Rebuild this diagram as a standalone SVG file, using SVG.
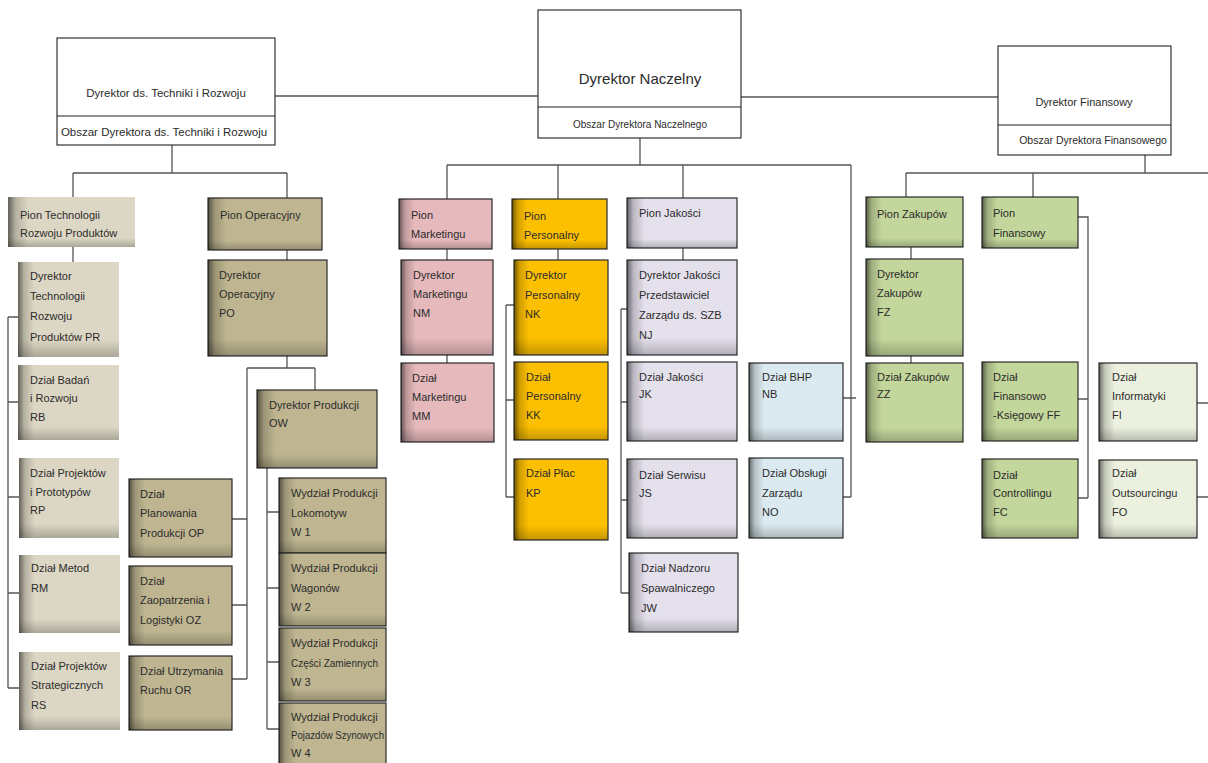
<svg xmlns="http://www.w3.org/2000/svg" width="1208" height="763" viewBox="0 0 1208 763">
<defs>
<linearGradient id="sl" x1="0" y1="0" x2="1" y2="0">
<stop offset="0" stop-color="#000" stop-opacity="0.55"/>
<stop offset="0.06" stop-color="#000" stop-opacity="0.18"/>
<stop offset="0.16" stop-color="#000" stop-opacity="0"/>
</linearGradient>
<linearGradient id="sb" x1="0" y1="0" x2="0" y2="1">
<stop offset="0.82" stop-color="#000" stop-opacity="0"/>
<stop offset="1" stop-color="#000" stop-opacity="0.22"/>
</linearGradient>
</defs>
<style>
.c{stroke:#555;stroke-width:1.3;fill:none}
.t{font-family:"Liberation Sans",Arial,sans-serif;font-size:11px;fill:#2b2b2b}
.top{fill:#fff;stroke:#222;stroke-width:1.1}
.tech{fill:#dcd7c4}
.op{fill:#bfb691;stroke:#2a2a2a;stroke-width:1.2}
.mk{fill:#e6b9bc;stroke:#2a2a2a;stroke-width:1.2}
.pe{fill:#fdc000;stroke:#2a2a2a;stroke-width:1.2}
.jk{fill:#e4e0ec;stroke:#2a2a2a;stroke-width:1.2}
.bhp{fill:#dbeaf0;stroke:#2a2a2a;stroke-width:1.2}
.gr{fill:#c3d69b;stroke:#2a2a2a;stroke-width:1.2}
.lg{fill:#ecf1df;stroke:#2a2a2a;stroke-width:1.2}
.shl{fill:url(#sl)}
.shb{fill:url(#sb)}
</style>
<rect width="1208" height="763" fill="#fff"/>

<g id="connectors">
<path class="c" d="M275,96H538M741,97H998"/>
<path class="c" d="M172,145V173M73,173H287M73,173V197M287,173V198"/>
<path class="c" d="M73,247V262M8,317V688M8,317H18M8,402H18M8,497H19M8,593H19M8,688H19"/>
<path class="c" d="M287,250V260M287,356V368M247,368H315M315,368V390M247,368V679M232,519H247M232,605H247M232,679H247"/>
<path class="c" d="M267,468V729M267,512H279M267,588H279M267,662H279M267,729H279"/>
<path class="c" d="M640,138V165M447,165H851M447,165V199M558,165V199M683,165V198M851,165V497M843,398H856M843,497H851"/>
<path class="c" d="M447,249V260M447,355V363"/>
<path class="c" d="M558,249V260M506,305V497M506,305H514M506,400H514M506,497H514"/>
<path class="c" d="M683,248V260M621,309V593M621,309H627M621,402H627M621,500H627M621,593H629"/>
<path class="c" d="M1145,155V173M906,173H1208M906,173V197M1033,173V197"/>
<path class="c" d="M911,247V259M911,356V363"/>
<path class="c" d="M1078,217H1088V498M1078,399H1088M1078,498H1088"/>
<path class="c" d="M1197,403H1208M1197,497H1208"/>
</g>

<g id="dyr-techniki">
<rect class="top" x="57" y="38" width="218" height="107"/>
<line x1="57" y1="116" x2="275" y2="116" stroke="#222" stroke-width="1.1"/>
<text class="t" x="166" y="97" text-anchor="middle" style="font-size:11.5px">Dyrektor ds. Techniki i Rozwoju</text>
<text class="t" x="164" y="136" text-anchor="middle" style="font-size:11.5px">Obszar Dyrektora ds. Techniki i Rozwoju</text>
</g>
<g id="dyr-naczelny">
<rect class="top" x="538" y="10" width="203" height="128"/>
<line x1="538" y1="107" x2="741" y2="107" stroke="#222" stroke-width="1.1"/>
<text class="t" x="640" y="84" text-anchor="middle" style="font-size:15px">Dyrektor Naczelny</text>
<text class="t" x="640" y="128" text-anchor="middle" style="font-size:10px">Obszar Dyrektora Naczelnego</text>
</g>
<g id="dyr-finansowy">
<rect class="top" x="998" y="46" width="173" height="109"/>
<line x1="998" y1="125" x2="1171" y2="125" stroke="#222" stroke-width="1.1"/>
<text class="t" x="1084" y="106" text-anchor="middle" style="font-size:11px">Dyrektor Finansowy</text>
<text class="t" x="1093" y="144" text-anchor="middle" style="font-size:10.5px">Obszar Dyrektora Finansowego</text>
</g>

<g id="pion-technologii">
<rect class="tech" x="8" y="197" width="127" height="50"/><rect class="shl" x="8" y="197" width="127" height="50"/><rect class="shb" x="8" y="197" width="127" height="50"/>
<text class="t" x="20" y="219">Pion Technologii</text><text class="t" x="20" y="237">Rozwoju Produktów</text>
</g>
<g id="dyr-pr">
<rect class="tech" x="18" y="262" width="101" height="95"/><rect class="shl" x="18" y="262" width="101" height="95"/><rect class="shb" x="18" y="262" width="101" height="95"/>
<text class="t" x="30" y="280">Dyrektor</text><text class="t" x="30" y="300">Technologii</text><text class="t" x="30" y="320">Rozwoju</text><text class="t" x="30" y="341">Produktów  PR</text>
</g>
<g id="dzial-rb">
<rect class="tech" x="18" y="365" width="101" height="75"/><rect class="shl" x="18" y="365" width="101" height="75"/><rect class="shb" x="18" y="365" width="101" height="75"/>
<text class="t" x="30" y="384">Dział Badań</text><text class="t" x="30" y="402">i Rozwoju</text><text class="t" x="30" y="421">RB</text>
</g>
<g id="dzial-rp">
<rect class="tech" x="19" y="458" width="100" height="80"/><rect class="shl" x="19" y="458" width="100" height="80"/><rect class="shb" x="19" y="458" width="100" height="80"/>
<text class="t" x="30" y="477">Dział Projektów</text><text class="t" x="30" y="496">i Prototypów</text><text class="t" x="30" y="514">RP</text>
</g>
<g id="dzial-rm">
<rect class="tech" x="19" y="555" width="101" height="78"/><rect class="shl" x="19" y="555" width="101" height="78"/><rect class="shb" x="19" y="555" width="101" height="78"/>
<text class="t" x="31" y="572">Dział Metod</text><text class="t" x="31" y="592">RM</text>
</g>
<g id="dzial-rs">
<rect class="tech" x="19" y="652" width="101" height="78"/><rect class="shl" x="19" y="652" width="101" height="78"/><rect class="shb" x="19" y="652" width="101" height="78"/>
<text class="t" x="31" y="670">Dział Projektów</text><text class="t" x="31" y="689">Strategicznych</text><text class="t" x="31" y="709">RS</text>
</g>

<g id="pion-operacyjny">
<rect class="op" x="208" y="198" width="114" height="52"/><rect class="shl" x="208" y="198" width="114" height="52"/><rect class="shb" x="208" y="198" width="114" height="52"/>
<text class="t" x="220" y="219">Pion Operacyjny</text>
</g>
<g id="dyr-po">
<rect class="op" x="208" y="260" width="119" height="96"/><rect class="shl" x="208" y="260" width="119" height="96"/><rect class="shb" x="208" y="260" width="119" height="96"/>
<text class="t" x="219" y="279">Dyrektor</text><text class="t" x="219" y="298">Operacyjny</text><text class="t" x="219" y="317">PO</text>
</g>
<g id="dyr-ow">
<rect class="op" x="257" y="390" width="120" height="78"/><rect class="shl" x="257" y="390" width="120" height="78"/><rect class="shb" x="257" y="390" width="120" height="78"/>
<text class="t" x="269" y="409">Dyrektor Produkcji</text><text class="t" x="269" y="427">OW</text>
</g>
<g id="dzial-op">
<rect class="op" x="129" y="479" width="103" height="78"/><rect class="shl" x="129" y="479" width="103" height="78"/><rect class="shb" x="129" y="479" width="103" height="78"/>
<text class="t" x="140" y="498">Dział</text><text class="t" x="140" y="517">Planowania</text><text class="t" x="140" y="537">Produkcji  OP</text>
</g>
<g id="dzial-oz">
<rect class="op" x="129" y="566" width="103" height="79"/><rect class="shl" x="129" y="566" width="103" height="79"/><rect class="shb" x="129" y="566" width="103" height="79"/>
<text class="t" x="140" y="585">Dział</text><text class="t" x="140" y="604">Zaopatrzenia i</text><text class="t" x="140" y="624">Logistyki OZ</text>
</g>
<g id="dzial-or">
<rect class="op" x="129" y="656" width="103" height="74"/><rect class="shl" x="129" y="656" width="103" height="74"/><rect class="shb" x="129" y="656" width="103" height="74"/>
<text class="t" x="140" y="675">Dział Utrzymania</text><text class="t" x="140" y="694">Ruchu OR</text>
</g>
<g id="wydzial-w1">
<rect class="op" x="279" y="478" width="107" height="75"/><rect class="shl" x="279" y="478" width="107" height="75"/><rect class="shb" x="279" y="478" width="107" height="75"/>
<text class="t" x="291" y="497">Wydział Produkcji</text><text class="t" x="291" y="517">Lokomotyw</text><text class="t" x="291" y="536">W 1</text>
</g>
<g id="wydzial-w2">
<rect class="op" x="279" y="553" width="107" height="73"/><rect class="shl" x="279" y="553" width="107" height="73"/><rect class="shb" x="279" y="553" width="107" height="73"/>
<text class="t" x="291" y="572">Wydział Produkcji</text><text class="t" x="291" y="592">Wagonów</text><text class="t" x="291" y="611">W 2</text>
</g>
<g id="wydzial-w3">
<rect class="op" x="279" y="628" width="107" height="73"/><rect class="shl" x="279" y="628" width="107" height="73"/><rect class="shb" x="279" y="628" width="107" height="73"/>
<text class="t" x="291" y="647">Wydział Produkcji</text><text class="t" x="291" y="667" textLength="87" lengthAdjust="spacingAndGlyphs">Części Zamiennych</text><text class="t" x="291" y="686">W 3</text>
</g>
<g id="wydzial-w4">
<rect class="op" x="279" y="703" width="107" height="62"/><rect class="shl" x="279" y="703" width="107" height="62"/>
<text class="t" x="291" y="721">Wydział Produkcji</text><text class="t" x="291" y="739" textLength="93" lengthAdjust="spacingAndGlyphs">Pojazdów Szynowych</text><text class="t" x="291" y="757">W 4</text>
</g>

<g id="pion-marketingu">
<rect class="mk" x="399" y="199" width="93" height="50"/><rect class="shl" x="399" y="199" width="93" height="50"/><rect class="shb" x="399" y="199" width="93" height="50"/>
<text class="t" x="411" y="219">Pion</text><text class="t" x="411" y="238">Marketingu</text>
</g>
<g id="dyr-nm">
<rect class="mk" x="401" y="260" width="92" height="95"/><rect class="shl" x="401" y="260" width="92" height="95"/><rect class="shb" x="401" y="260" width="92" height="95"/>
<text class="t" x="413" y="279">Dyrektor</text><text class="t" x="413" y="298">Marketingu</text><text class="t" x="413" y="317">NM</text>
</g>
<g id="dzial-mm">
<rect class="mk" x="401" y="363" width="93" height="79"/><rect class="shl" x="401" y="363" width="93" height="79"/><rect class="shb" x="401" y="363" width="93" height="79"/>
<text class="t" x="412" y="382">Dział</text><text class="t" x="412" y="401">Marketingu</text><text class="t" x="412" y="420">MM</text>
</g>

<g id="pion-personalny">
<rect class="pe" x="512" y="199" width="95" height="50"/><rect class="shl" x="512" y="199" width="95" height="50"/><rect class="shb" x="512" y="199" width="95" height="50"/>
<text class="t" x="524" y="220">Pion</text><text class="t" x="524" y="239">Personalny</text>
</g>
<g id="dyr-nk">
<rect class="pe" x="514" y="260" width="94" height="95"/><rect class="shl" x="514" y="260" width="94" height="95"/><rect class="shb" x="514" y="260" width="94" height="95"/>
<text class="t" x="525" y="279">Dyrektor</text><text class="t" x="525" y="299">Personalny</text><text class="t" x="525" y="318">NK</text>
</g>
<g id="dzial-kk">
<rect class="pe" x="514" y="362" width="94" height="78"/><rect class="shl" x="514" y="362" width="94" height="78"/><rect class="shb" x="514" y="362" width="94" height="78"/>
<text class="t" x="526" y="381">Dział</text><text class="t" x="526" y="400">Personalny</text><text class="t" x="526" y="419">KK</text>
</g>
<g id="dzial-kp">
<rect class="pe" x="514" y="459" width="94" height="81"/><rect class="shl" x="514" y="459" width="94" height="81"/><rect class="shb" x="514" y="459" width="94" height="81"/>
<text class="t" x="526" y="477">Dział Płac</text><text class="t" x="526" y="497">KP</text>
</g>

<g id="pion-jakosci">
<rect class="jk" x="627" y="198" width="110" height="50"/><rect class="shl" x="627" y="198" width="110" height="50"/><rect class="shb" x="627" y="198" width="110" height="50"/>
<text class="t" x="639" y="217">Pion Jakości</text>
</g>
<g id="dyr-nj">
<rect class="jk" x="627" y="260" width="110" height="95"/><rect class="shl" x="627" y="260" width="110" height="95"/><rect class="shb" x="627" y="260" width="110" height="95"/>
<text class="t" x="639" y="279">Dyrektor Jakości</text><text class="t" x="639" y="299">Przedstawiciel</text><text class="t" x="639" y="319">Zarządu ds. SZB</text><text class="t" x="639" y="339">NJ</text>
</g>
<g id="dzial-jk">
<rect class="jk" x="627" y="362" width="110" height="79"/><rect class="shl" x="627" y="362" width="110" height="79"/><rect class="shb" x="627" y="362" width="110" height="79"/>
<text class="t" x="639" y="381">Dział Jakości</text><text class="t" x="639" y="398">JK</text>
</g>
<g id="dzial-js">
<rect class="jk" x="627" y="459" width="110" height="79"/><rect class="shl" x="627" y="459" width="110" height="79"/><rect class="shb" x="627" y="459" width="110" height="79"/>
<text class="t" x="639" y="479">Dział Serwisu</text><text class="t" x="639" y="497">JS</text>
</g>
<g id="dzial-jw">
<rect class="jk" x="629" y="553" width="109" height="79"/><rect class="shl" x="629" y="553" width="109" height="79"/><rect class="shb" x="629" y="553" width="109" height="79"/>
<text class="t" x="641" y="572">Dział Nadzoru</text><text class="t" x="641" y="592">Spawalniczego</text><text class="t" x="641" y="612">JW</text>
</g>

<g id="dzial-nb">
<rect class="bhp" x="749" y="363" width="94" height="78"/><rect class="shl" x="749" y="363" width="94" height="78"/><rect class="shb" x="749" y="363" width="94" height="78"/>
<text class="t" x="762" y="381">Dział BHP</text><text class="t" x="762" y="398">NB</text>
</g>
<g id="dzial-no">
<rect class="bhp" x="749" y="458" width="94" height="80"/><rect class="shl" x="749" y="458" width="94" height="80"/><rect class="shb" x="749" y="458" width="94" height="80"/>
<text class="t" x="762" y="477">Dział Obsługi</text><text class="t" x="762" y="497">Zarządu</text><text class="t" x="762" y="516">NO</text>
</g>

<g id="pion-zakupow">
<rect class="gr" x="866" y="197" width="97" height="50"/><rect class="shl" x="866" y="197" width="97" height="50"/><rect class="shb" x="866" y="197" width="97" height="50"/>
<text class="t" x="877" y="218">Pion Zakupów</text>
</g>
<g id="dyr-fz">
<rect class="gr" x="866" y="259" width="97" height="97"/><rect class="shl" x="866" y="259" width="97" height="97"/><rect class="shb" x="866" y="259" width="97" height="97"/>
<text class="t" x="877" y="278">Dyrektor</text><text class="t" x="877" y="297">Zakupów</text><text class="t" x="877" y="316">FZ</text>
</g>
<g id="dzial-zz">
<rect class="gr" x="866" y="363" width="97" height="79"/><rect class="shl" x="866" y="363" width="97" height="79"/><rect class="shb" x="866" y="363" width="97" height="79"/>
<text class="t" x="877" y="381">Dział Zakupów</text><text class="t" x="877" y="398">ZZ</text>
</g>

<g id="pion-finansowy">
<rect class="gr" x="982" y="197" width="96" height="51"/><rect class="shl" x="982" y="197" width="96" height="51"/><rect class="shb" x="982" y="197" width="96" height="51"/>
<text class="t" x="993" y="217">Pion</text><text class="t" x="993" y="237">Finansowy</text>
</g>
<g id="dzial-ff">
<rect class="gr" x="982" y="362" width="96" height="79"/><rect class="shl" x="982" y="362" width="96" height="79"/><rect class="shb" x="982" y="362" width="96" height="79"/>
<text class="t" x="993" y="381">Dział</text><text class="t" x="993" y="400">Finansowo</text><text class="t" x="993" y="419">-Księgowy FF</text>
</g>
<g id="dzial-fc">
<rect class="gr" x="982" y="459" width="96" height="79"/><rect class="shl" x="982" y="459" width="96" height="79"/><rect class="shb" x="982" y="459" width="96" height="79"/>
<text class="t" x="993" y="479">Dział</text><text class="t" x="993" y="497">Controllingu</text><text class="t" x="993" y="516">FC</text>
</g>
<g id="dzial-fi">
<rect class="lg" x="1099" y="363" width="98" height="78"/><rect class="shl" x="1099" y="363" width="98" height="78"/><rect class="shb" x="1099" y="363" width="98" height="78"/>
<text class="t" x="1112" y="381">Dział</text><text class="t" x="1112" y="400">Informatyki</text><text class="t" x="1112" y="419">FI</text>
</g>
<g id="dzial-fo">
<rect class="lg" x="1099" y="460" width="98" height="78"/><rect class="shl" x="1099" y="460" width="98" height="78"/><rect class="shb" x="1099" y="460" width="98" height="78"/>
<text class="t" x="1112" y="477">Dział</text><text class="t" x="1112" y="497">Outsourcingu</text><text class="t" x="1112" y="516">FO</text>
</g>
</svg>
